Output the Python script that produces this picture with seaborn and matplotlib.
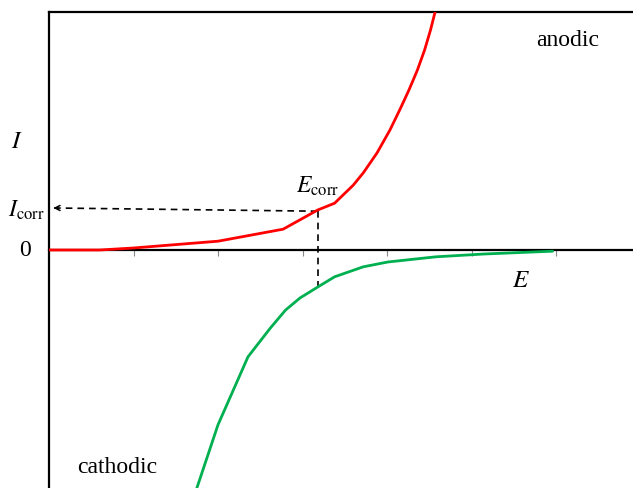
import numpy as np
import pandas as pd
import seaborn as sns
import matplotlib.pyplot as plt

# anodic branch (E, I)
anodic_E = [0.0, 0.6, 1.0, 2.0, 2.77, 3.18, 3.38, 3.6, 3.72, 3.88, 4.035, 4.15, 4.26, 4.36, 4.445, 4.515, 4.575]
anodic_I = [0.0, 0.0, 0.05, 0.22, 0.52, 1.0, 1.17, 1.62, 1.93, 2.42, 3.0, 3.5, 4.0, 4.5, 5.0, 5.5, 6.0]

# cathodic branch
cathodic_E = [1.75, 2.0, 2.355, 2.62, 2.8, 2.97, 3.2, 3.38, 3.72, 4.01, 4.58, 5.15, 5.96]
cathodic_I = [-5.95, -4.37, -2.67, -1.95, -1.5, -1.2, -0.9, -0.67, -0.42, -0.3, -0.17, -0.1, -0.03]

E_corr = 3.18
I_corr = 1.0
I_cath_at_corr = -0.9

sns.set_style("white")
plt.rcParams["font.family"] = ["Liberation Serif", "DejaVu Serif"]
plt.rcParams["mathtext.fontset"] = "stix"
plt.rcParams["text.color"] = "black"

fig = plt.figure(figsize=(6.33, 4.88), dpi=100)
ax = fig.add_axes([49 / 633, 0, (633 - 49) / 633, (488 - 12) / 488])

an = pd.DataFrame({"E": anodic_E, "I": anodic_I})
ca = pd.DataFrame({"E": cathodic_E, "I": cathodic_I})
sns.lineplot(data=an, x="E", y="I", color="#ff0000", lw=2.0, ax=ax,
             estimator=None, zorder=4)
sns.lineplot(data=ca, x="E", y="I", color="#00b050", lw=2.0, ax=ax,
             estimator=None, zorder=4)

# dashed guides to Ecorr / Icorr
ax.plot([0.06, E_corr], [I_corr + 0.05, I_corr - 0.03], ls=(0, (4, 3)),
        color="black", lw=1.2, zorder=3)
ax.plot([E_corr, E_corr], [I_corr - 0.03, I_cath_at_corr], ls=(0, (4, 3)),
        color="black", lw=1.2, zorder=3)
ax.annotate("", xy=(0.02, I_corr + 0.05), xytext=(0.14, I_corr + 0.05),
            arrowprops=dict(arrowstyle="->,head_length=0.35,head_width=0.18",
                            color="black", lw=1.1), zorder=3)

ax.set_xlim(0, (633 - 49) / 84.5)
ax.set_ylim(-5.95, 5.95)
ax.spines["right"].set_visible(False)
ax.spines["bottom"].set_position(("data", 0))
for s in ["left", "top", "bottom"]:
    ax.spines[s].set_color("black")
    ax.spines[s].set_linewidth(1.6)
ax.spines["bottom"].set_zorder(2)
ax.set_xticks([1, 2, 3, 4, 5, 6])
ax.set_xticklabels([])
ax.set_yticks([])
ax.tick_params(axis="x", direction="out", length=4, width=0.8, color="#888888",
               bottom=True)
ax.set_xlabel("")
ax.set_ylabel("")

ax.text(-0.38, 2.7, "$I$", fontsize=18, ha="center", va="center", clip_on=False)
ax.text(-0.28, -0.02, "0", fontsize=17, ha="center", va="center", clip_on=False)
ax.text(-0.05, 0.83, r"$I_{\rm corr}$", fontsize=17, ha="right", va="baseline",
        clip_on=False)
ax.text(2.92, 1.43, r"$E_{\rm corr}$", fontsize=17, ha="left", va="baseline")
ax.text(5.59, -0.93, "$E$", fontsize=18, ha="center", va="baseline")
ax.text(5.76, 5.1, "anodic", fontsize=17, ha="left", va="baseline")
ax.text(0.33, -5.58, "cathodic", fontsize=17, ha="left", va="baseline")

fig.savefig("out.png", dpi=100)
